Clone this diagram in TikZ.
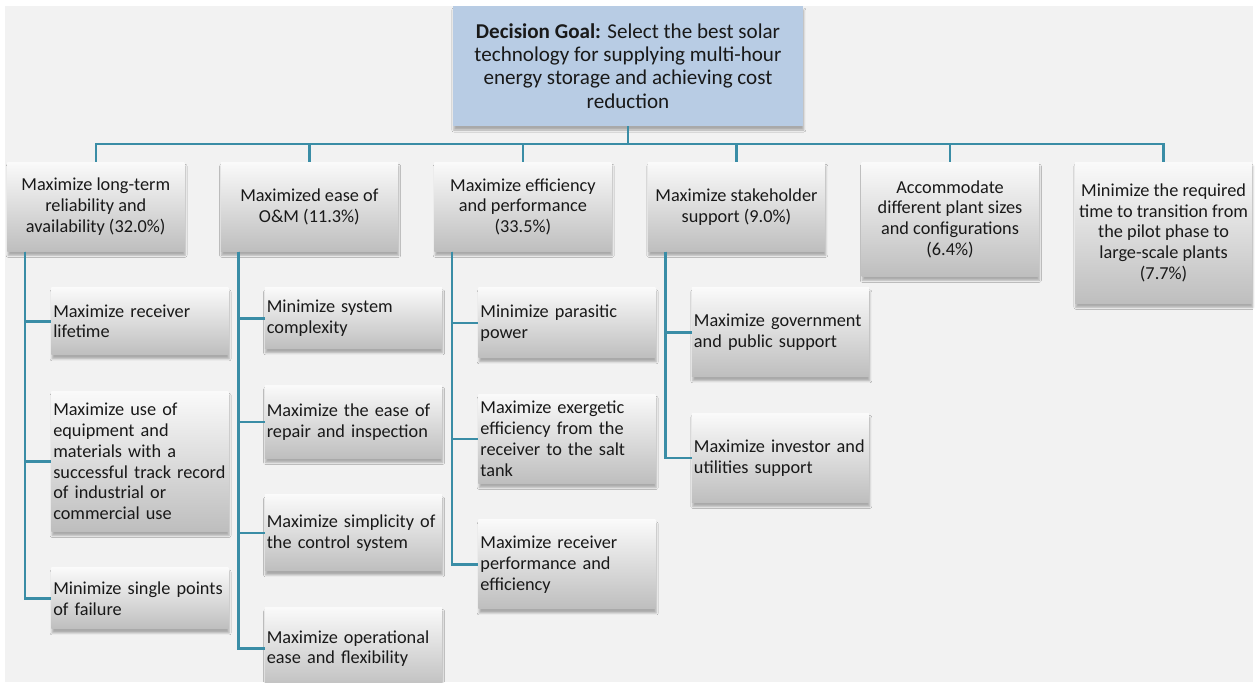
\documentclass[tikz,border=0pt]{standalone}
\usepackage{fontspec}
\setmainfont{Carlito}
\usepackage{tikz}
\usetikzlibrary{positioning,shadows.blur}

\definecolor{bgcol}{RGB}{242,242,242}
\definecolor{goalcol}{RGB}{184,204,228}
\definecolor{linkcol}{RGB}{58,141,166}
\definecolor{boxtop}{RGB}{250,250,250}
\definecolor{boxbot}{RGB}{190,190,190}

\begin{document}
\begin{tikzpicture}
	\tikzstyle{crit} = [rectangle, top color=boxtop, bottom color=boxbot, minimum width=4.425cm, minimum height=2.225cm, inner sep=0pt, align=center, text=black!90, font=\fontsize{13}{14.8}\selectfont, blur shadow={shadow xshift=0.02cm, shadow yshift=-0.1cm, shadow blur radius=0.05cm, shadow opacity=30}]
	\tikzstyle{sub} = [crit, text width=4.325cm, inner xsep=0.05cm, align=left]
	\tikzstyle{link} = [draw=linkcol, line width=0.06cm]
	
	\useasboundingbox (0,0) rectangle (31.4,-17.05);
	\fill [bgcol] (0.125,-0.15) rectangle (31.325,-17.05);
	
	\node [rectangle, fill=goalcol, minimum width=8.75cm, minimum height=3cm, align=center, text=black!90, font=\fontsize{15}{16.6}\selectfont, blur shadow={shadow xshift=0.02cm, shadow yshift=-0.1cm, shadow blur radius=0.05cm, shadow opacity=30}] (goal) at (15.7,-1.65) {\textbf{Decision Goal:} Select the best solar\\technology for supplying multi-hour\\energy storage and achieving cost\\reduction};
	
	\node [crit, anchor=north west] (rel) at (0.175,-4.05) {Maximize long-term\\reliability and\\availability (32.0\%)};
	\node [crit, right = 0.9cm of rel] (om) {Maximized ease of\\O\&M (11.3\%)};
	\node [crit, right = 0.9cm of om] (eff) {Maximize efficiency\\and performance\\(33.5\%)};
	\node [crit, right = 0.9cm of eff] (stake) {Maximize stakeholder\\support (9.0\%)};
	\node [crit, minimum height=2.85cm, right = 0.9cm of stake.north east, anchor=north west] (size) {Accommodate\\different plant sizes\\and configurations\\(6.4\%)};
	\node [crit, minimum height=3.525cm, right = 0.9cm of size.north east, anchor=north west] (trans) {Minimize the required\\time to transition from\\the pilot phase to\\large-scale plants\\(7.7\%)};
	
	\node [sub, minimum height=1.675cm, below right = 0.9cm and 1.1cm of rel.south west] (life) {Maximize receiver\\lifetime};
	\node [sub, minimum height=3.5cm, below = 0.9cm of life] (equip) {Maximize use of\\equipment and\\materials with a\\successful track record\\of industrial or\\commercial use};
	\node [sub, minimum height=1.525cm, below = 0.9cm of equip] (fail) {Minimize single points\\of failure};
	
	\node [sub, minimum height=1.525cm, below right = 0.9cm and 1.1cm of om.south west] (cplx) {Minimize system\\complexity};
	\node [sub, minimum height=1.825cm, below = 0.9cm of cplx] (repair) {Maximize the ease of\\repair and inspection};
	\node [sub, minimum height=1.9cm, below = 0.9cm of repair] (ctrl) {Maximize simplicity of\\the control system};
	\node [sub, minimum height=2.05cm, below = 0.9cm of ctrl] (oper) {Maximize operational\\ease and flexibility};
	
	\node [sub, minimum height=1.75cm, below right = 0.9cm and 1.1cm of eff.south west] (para) {Minimize parasitic\\power};
	\node [sub, below = 0.9cm of para] (exer) {Maximize exergetic\\efficiency from the\\receiver to the salt\\tank};
	\node [sub, below = 0.9cm of exer] (recv) {Maximize receiver\\performance and\\efficiency};
	
	\node [sub, below right = 0.9cm and 1.1cm of stake.south west] (gov) {Maximize government\\and public support};
	\node [sub, below = 0.9cm of gov] (inv) {Maximize investor and\\utilities support};
	
	\draw [link] (goal.south) |- ([yshift=0.45cm]rel.north) -- (rel.north);
	\draw [link] (goal.south) |- ([yshift=0.45cm]om.north) -- (om.north);
	\draw [link] (goal.south) |- ([yshift=0.45cm]eff.north) -- (eff.north);
	\draw [link] (goal.south) |- ([yshift=0.45cm]stake.north) -- (stake.north);
	\draw [link] (goal.south) |- ([yshift=0.45cm]size.north) -- (size.north);
	\draw [link] (goal.south) |- ([yshift=0.45cm]trans.north) -- (trans.north);
	
	\draw [link] ([xshift=0.45cm]rel.south west) |- (life.west);
	\draw [link] ([xshift=0.45cm]rel.south west) |- (equip.west);
	\draw [link] ([xshift=0.45cm]rel.south west) |- (fail.west);
	\draw [link] ([xshift=0.45cm]om.south west) |- (cplx.west);
	\draw [link] ([xshift=0.45cm]om.south west) |- (repair.west);
	\draw [link] ([xshift=0.45cm]om.south west) |- (ctrl.west);
	\draw [link] ([xshift=0.45cm]om.south west) |- (oper.west);
	\draw [link] ([xshift=0.45cm]eff.south west) |- (para.west);
	\draw [link] ([xshift=0.45cm]eff.south west) |- (exer.west);
	\draw [link] ([xshift=0.45cm]eff.south west) |- (recv.west);
	\draw [link] ([xshift=0.45cm]stake.south west) |- (gov.west);
	\draw [link] ([xshift=0.45cm]stake.south west) |- (inv.west);
	
\end{tikzpicture}
\end{document}
